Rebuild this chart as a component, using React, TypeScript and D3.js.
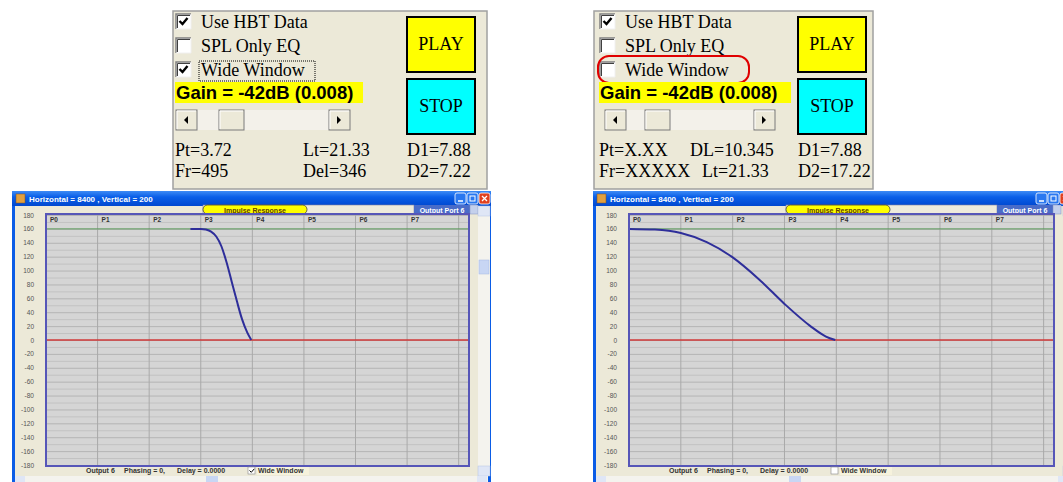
import * as d3 from 'd3'

// ---- data ----
const yTicks = [180, 160, 140, 120, 100, 80, 60, 40, 20, 0, -20, -40, -60, -80, -100, -120, -140, -160, -180]
const yGrid = [170, 150, 130, 110, 90, 70, 50, 30, 10, -10, -30, -50, -70, -90, -110, -130, -150, -170]
const pLabels = ['P0', 'P1', 'P2', 'P3', 'P4', 'P5', 'P6', 'P7']
const pGrid = [0, 1, 2, 3, 4, 5, 6, 7, 8]
const windowLevel = 160
const baseLevel = 0

// narrow window (Wide Window checked, left)
const narrowX = [2.8, 3.0, 3.1, 3.2, 3.3, 3.4, 3.5, 3.6, 3.7, 3.8, 3.9, 3.98]
const narrowY = [160, 160, 159, 156, 149, 135, 112, 84, 56, 30, 11, 0]
// wide window (unchecked, right)
const wideX = [0, 0.5, 1, 1.5, 2, 2.5, 3, 3.5, 3.8, 3.98]
const wideY = [160, 159, 154, 141, 119, 88, 52, 20, 5, 0]

const leftRows = [['Pt=3.72', 'Lt=21.33', 'D1=7.88'], ['Fr=495', 'Del=346', 'D2=7.22']]
const rightRows = [['Pt=X.XX', 'DL=10.345', 'D1=7.88'], ['Fr=XXXXX', 'Lt=21.33', 'D2=17.22']]
const optionLabels = ['Use HBT Data', 'SPL Only EQ', 'Wide Window']
const gainLabel = 'Gain = -42dB (0.008)'
const titleText = 'Horizontal = 8400 , Vertical = 200'

const serif = '"Liberation Serif", "Times New Roman", serif'
const sans = '"Liberation Sans", Arial, sans-serif'

function CheckBox({ x, y, checked }: { x: number; y: number; checked: boolean }) {
  const s = 15
  return (
    <g>
      <rect x={x} y={y} width={s} height={s} fill="#fff" />
      <path d={`M${x} ${y + s}V${y}H${x + s}`} stroke="#808080" strokeWidth={1.5} fill="none" />
      <path d={`M${x + 1.5} ${y + s - 1}V${y + 1.5}H${x + s - 1}`} stroke="#404040" strokeWidth={1} fill="none" />
      <path d={`M${x} ${y + s}H${x + s}V${y}`} stroke="#f0f0f0" strokeWidth={1} fill="none" />
      {checked && (
        <path d={`M${x + 3.5} ${y + 7}l3 3l5 -6`} stroke="#000" strokeWidth={2.4} fill="none" />
      )}
    </g>
  )
}

function ScrollBar({ x, y, w, thumb }: { x: number; y: number; w: number; thumb: number }) {
  const h = 20
  return (
    <g>
      <rect x={x} y={y} width={w} height={h} fill="#f3f1ea" />
      {[x, x + w - 21, x + thumb].map((bx, i) => (
        <g key={i}>
          <rect x={bx} y={y} width={i === 2 ? 25 : 21} height={h} fill="#ece9d8" stroke="#7a7a7a" strokeWidth={1} />
          <path d={`M${bx + 1} ${y + h - 1}V${y + 1}H${bx + (i === 2 ? 24 : 20)}`} stroke="#fff" fill="none" />
        </g>
      ))}
      <path d={`M${x + 8} ${y + 10}l4 -4v8z`} fill="#000" />
      <path d={`M${x + w - 9} ${y + 10}l-4 -4v8z`} fill="#000" />
    </g>
  )
}

function ControlPanel({
  x, w, boxX, checks, gainW, scrollX, scrollW, thumb, rows, colX, rowOffsets, btnX, ring,
}: {
  x: number; w: number; boxX: number; checks: boolean[]; gainW: number; scrollX: number; scrollW: number
  thumb: number; rows: string[][]; colX: number[]; rowOffsets: number[]; btnX: number; ring: boolean
}) {
  return (
    <g>
      <rect x={x} y={11} width={w} height={178} fill="#ece9d8" stroke="#a0a0a0" strokeWidth={1.5} />
      {optionLabels.map((label, i) => (
        <g key={label}>
          <CheckBox x={boxX} y={14 + i * 24} checked={checks[i]} />
          <text x={boxX + 25} y={28 + i * 24} fontFamily={serif} fontSize={18} fill="#000">{label}</text>
        </g>
      ))}
      {checks[2] && (
        <rect x={boxX + 23} y={61} width={116} height={20} fill="none" stroke="#000" strokeDasharray="1,1" />
      )}
      {ring && (
        <rect x={boxX - 2} y={56} width={151} height={27} rx={11} fill="none" stroke="#e00000" strokeWidth={2} />
      )}
      <rect x={boxX - 1} y={82} width={gainW} height={21} fill="#ffff00" />
      <text x={boxX} y={99} fontFamily={sans} fontWeight="bold" fontSize={18.5} fill="#000">{gainLabel}</text>
      <ScrollBar x={scrollX} y={110} w={scrollW} thumb={thumb} />
      {rows.map((row, r) =>
        row.map((t, c) => (
          <text key={t} x={colX[c] + (c === 1 ? rowOffsets[r] : 0)} y={156 + r * 21}
            fontFamily={serif} fontSize={18} fill="#000">{t}</text>
        ))
      )}
      {['PLAY', 'STOP'].map((t, i) => (
        <g key={t}>
          <rect x={btnX} y={17 + i * 62} width={68} height={55} fill={i === 0 ? '#ffff00' : '#00ffff'}
            stroke="#000" strokeWidth={2} />
          <text x={btnX + 34} y={50 + i * 62} textAnchor="middle" fontFamily={serif} fontSize={18}>{t}</text>
        </g>
      ))}
    </g>
  )
}

function ScopeWindow({
  wx, wRight, plotL, plotR, curveX, curveY, wide,
}: {
  wx: number; wRight: number; plotL: number; plotR: number; curveX: number[]; curveY: number[]; wide: boolean
}) {
  const top = 214
  const bottom = 466
  const x = d3.scaleLinear().domain([0, 8.2]).range([plotL, plotR])
  const y = d3.scaleLinear().domain([-180, 180]).range([465, 215])
  const line = d3.line<number>()
    .x((_, i) => x(curveX[i]))
    .y(d => y(d))
    .curve(d3.curveMonotoneX)
  const ww = wRight - wx
  return (
    <g>
      <defs>
        <linearGradient id={`tb${wx}`} x1="0" y1="0" x2="0" y2="1">
          <stop offset="0%" stopColor="#3d8bf5" />
          <stop offset="40%" stopColor="#0a5fe8" />
          <stop offset="100%" stopColor="#0048d0" />
        </linearGradient>
      </defs>
      {/* frame */}
      <rect x={wx} y={191} width={ww} height={295} fill="#0a5ce6" />
      <rect x={wx} y={191} width={ww} height={15} fill={`url(#tb${wx})`} />
      <rect x={wx + 3} y={206} width={ww - 6} height={280} fill="#ece9d8" />
      <rect x={wx + 4} y={194} width={9} height={9} fill="#e0a040" stroke="#805020" strokeWidth={0.5} />
      <text x={wx + 17} y={202} fontFamily={sans} fontWeight="bold" fontSize={8} fill="#fff">{titleText}</text>
      {[0, 1, 2].map(i => (
        <rect key={i} x={wRight - 36 + i * 12} y={193} width={11} height={11} rx={2}
          fill={i === 2 ? '#e04020' : '#2a78f0'} stroke="#fff" strokeWidth={0.8} />
      ))}
      <path d={`M${wRight - 33} ${201}h5`} stroke="#fff" strokeWidth={1.5} />
      <rect x={wRight - 21} y={196} width={5} height={5} fill="none" stroke="#fff" strokeWidth={1} />
      <path d={`M${wRight - 9} 196l5 5M${wRight - 4} 196l-5 5`} stroke="#fff" strokeWidth={1.3} />

      {/* header strip */}
      <rect x={plotL + 157} y={205} width={211} height={9} fill="#eeebdc" stroke="#8080a0" strokeWidth={0.6} />
      <rect x={plotL + 157} y={205} width={104} height={9} rx={4.5} fill="#ffff00" stroke="#404040" strokeWidth={0.8} />
      <text x={plotL + 209} y={212.5} textAnchor="middle" fontFamily={sans} fontWeight="bold" fontSize={7} fill="#604000">Impulse Response</text>
      <rect x={plotL + 368} y={205} width={56} height={9} fill="#4a6cc8" />
      <text x={plotL + 396} y={212.5} textAnchor="middle" fontFamily={sans} fontWeight="bold" fontSize={7} fill="#fff">Output Port 6</text>
      <rect x={plotL + 424} y={205} width={8} height={9} fill="#c4d0ec" stroke="#8090c0" strokeWidth={0.5} />

      {/* plot */}
      <rect x={plotL} y={top} width={plotR - plotL} height={bottom - top} fill="#d5d5d5" />
      {yGrid.concat(yTicks).map((v, i) => (
        <line key={i} x1={plotL} x2={plotR} y1={y(v) + 0.5} y2={y(v) + 0.5}
          stroke={i < yGrid.length ? '#c2c2c2' : '#b4b4b4'} strokeWidth={1} />
      ))}
      {pGrid.map(p => (
        <line key={p} x1={x(p)} x2={x(p)} y1={top} y2={bottom} stroke="#a9a9a9" strokeWidth={1} />
      ))}
      {pLabels.map((l, i) => (
        <text key={l} x={x(i) + 4} y={222} fontFamily={sans} fontWeight="bold" fontSize={6.5} fill="#333">{l}</text>
      ))}
      <line x1={plotL} x2={plotR} y1={y(windowLevel)} y2={y(windowLevel)} stroke="#5a9a5a" strokeWidth={1} />
      <line x1={plotL} x2={plotR} y1={y(baseLevel)} y2={y(baseLevel)} stroke="#d03838" strokeWidth={1.5} />
      <path d={line(curveY) ?? ''} fill="none" stroke="#2e2e9a" strokeWidth={2} />
      <rect x={plotL} y={top} width={plotR - plotL} height={bottom - top} fill="none" stroke="#5656b8" strokeWidth={2} />
      {yTicks.map(v => (
        <text key={v} x={plotL - 12} y={y(v) + 2.5} textAnchor="end" fontFamily={sans} fontSize={6.5} fill="#555">{v}</text>
      ))}

      {/* status line */}
      <g fontFamily={sans} fontWeight="bold" fontSize={7} fill="#333">
        <text x={plotL + 40} y={473}>Output 6</text>
        <text x={plotL + 78} y={473}>Phasing = 0,</text>
        <text x={plotL + 131} y={473}>Delay = 0.0000</text>
        <rect x={plotL + 202} y={467} width={7} height={7} fill="#fff" stroke="#888" strokeWidth={0.6} />
        {wide && <path d={`M${plotL + 203.5} 470.5l1.8 1.8l3 -3.5`} stroke="#000" strokeWidth={1} fill="none" />}
        <rect x={plotL + 211} y={467} width={52} height={8} fill="#f6f2dc" />
        <text x={plotL + 212} y={473}>Wide Window</text>
      </g>

      {/* scrollbars */}
      <rect x={plotR + 9} y={206} width={12} height={270} fill="#f4f3ee" />
      <rect x={plotR + 9} y={206} width={12} height={10} fill="#dfe6f6" stroke="#b4c4e4" strokeWidth={0.5} />
      <rect x={plotR + 10} y={260} width={10} height={14} fill="#c8d6f4" stroke="#a4b8e4" strokeWidth={0.5} />
      <rect x={plotR + 9} y={466} width={12} height={10} fill="#dfe6f6" stroke="#b4c4e4" strokeWidth={0.5} />
      <rect x={wx + 3} y={476} width={ww - 6} height={7} fill="#f4f3ee" />
      <rect x={plotL + 160} y={476} width={12} height={7} fill="#c8d6f4" />
      <rect x={wx + 3} y={476} width={10} height={7} fill="#dfe6f6" />
      <rect x={wRight - 14} y={476} width={10} height={7} fill="#dfe6f6" />
    </g>
  )
}

export default function App() {
  return (
    <svg width={1063} height={482} style={{ position: 'absolute', left: 0, top: 0, background: '#fff' }}>
      <rect width={1063} height={482} fill="#fff" />
      <ControlPanel x={173} w={314} boxX={176} checks={[true, false, true]} gainW={188}
        scrollX={176} scrollW={174} thumb={43} rows={leftRows} colX={[175, 303, 407]} rowOffsets={[0, 0]}
        btnX={407} ring={false} />
      <ControlPanel x={594} w={279} boxX={600} checks={[true, false, false]} gainW={192}
        scrollX={605} scrollW={170} thumb={40} rows={rightRows} colX={[599, 690, 798]} rowOffsets={[0, 12]}
        btnX={798} ring={true} />
      <ScopeWindow wx={12} wRight={491} plotL={46} plotR={469} curveX={narrowX} curveY={narrowY} wide={true} />
      <ScopeWindow wx={593} wRight={1072} plotL={629} plotR={1054} curveX={wideX} curveY={wideY} wide={false} />
    </svg>
  )
}
